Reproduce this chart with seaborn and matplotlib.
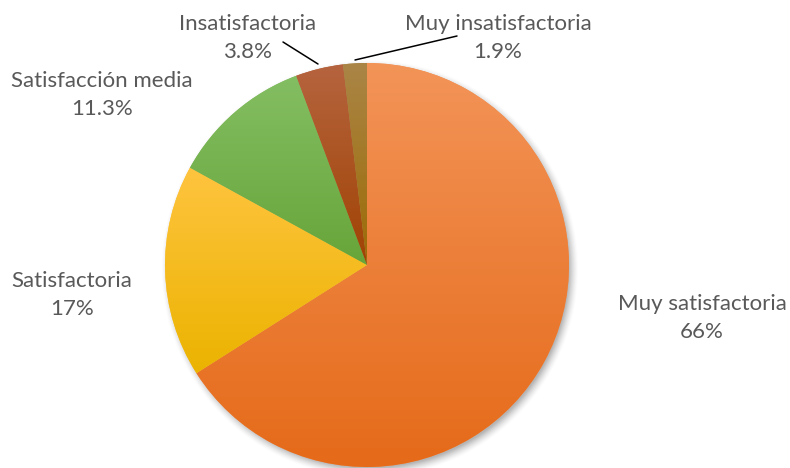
import numpy as np
import matplotlib
matplotlib.use("Agg")
import matplotlib.pyplot as plt
import matplotlib.colors as mcolors
import seaborn as sns

# Survey results
categories = ["Muy satisfactoria", "Satisfactoria", "Satisfacción media",
              "Insatisfactoria", "Muy insatisfactoria"]
values = [66, 17, 11.3, 3.8, 1.9]
value_labels = ["66%", "17%", "11.3%", "3.8%", "1.9%"]

# Gradient colours for each slice (top -> bottom)
top_colors = ["#F39458", "#FFC43F", "#84BE63", "#B6643F", "#AA8546"]
bottom_colors = ["#E56A19", "#EBB300", "#67A539", "#A04303", "#9D6B05"]

sns.set_theme(style="white")
plt.rcParams["font.family"] = ["Lato", "DejaVu Sans"]

W, H = 790, 468
cx, cy, R = 367, 265, 202  # pie centre and radius in pixels

fig = plt.figure(figsize=(W / 100, H / 100), dpi=100)
ax = fig.add_axes([0, 0, 1, 1])
ax.axis("off")


def set_view():
    ax.set_xlim(-cx / R, (W - cx) / R)
    ax.set_ylim(-(H - cy) / R, cy / R)
    ax.set_aspect("auto")


def px(x, y):
    return (x - cx) / R, (cy - y) / R


# soft drop shadow behind the pie
n = 400
ext = 1.12
gx, gy = np.meshgrid(np.linspace(-ext, ext, n), np.linspace(ext, -ext, n))
d = np.hypot(gx - 0.012, gy + 0.02)
alpha = np.clip((1.035 - d) / 0.05, 0, 1) ** 1.5 * 0.45
shadow = np.zeros((n, n, 4))
shadow[..., :3] = 0.35
shadow[..., 3] = alpha
ax.imshow(shadow, extent=(-ext, ext, -ext, ext), zorder=0, interpolation="bilinear")

wedges, _ = ax.pie(values, startangle=90, counterclock=False, radius=1,
                   colors=top_colors, wedgeprops=dict(linewidth=0))

# vertical gradient fill clipped to each wedge
for w, c0, c1 in zip(wedges, top_colors, bottom_colors):
    path = w.get_path().transformed(w.get_patch_transform())
    verts = path.vertices
    y0, y1 = verts[:, 1].min(), verts[:, 1].max()
    x0, x1 = verts[:, 0].min(), verts[:, 0].max()
    cmap = mcolors.LinearSegmentedColormap.from_list("g", [c1, c0])
    grad = np.linspace(0, 1, 256).reshape(-1, 1)
    im = ax.imshow(grad, cmap=cmap, origin="lower", aspect="auto",
                   extent=(x0, x1, y0, y1), zorder=w.get_zorder() + 0.1,
                   interpolation="bilinear")
    im.set_clip_path(w)
set_view()

# category labels with values (centre x, baseline of first line, baseline of second)
label_pos = [(702, 310, 338), (72, 287, 315), (102, 87, 115),
             (248, 30, 58), (498, 30, 58)]
txt_color = "#595959"
for name, vl, (lx, b1, b2) in zip(categories, value_labels, label_pos):
    for s, b in ((name, b1), (vl, b2)):
        x, y = px(lx, b)
        ax.text(x, y, s, ha="center", va="baseline", fontsize=16,
                color=txt_color, zorder=5)

# leader lines for the two small slices
for (xa, ya), (xb, yb) in [((283, 42), (318, 64)), ((355, 60), (457, 36))]:
    a = px(xa, ya)
    b = px(xb, yb)
    ax.plot([a[0], b[0]], [a[1], b[1]], color="black", lw=1.1, zorder=5)

fig.savefig("out.png", dpi=100)
